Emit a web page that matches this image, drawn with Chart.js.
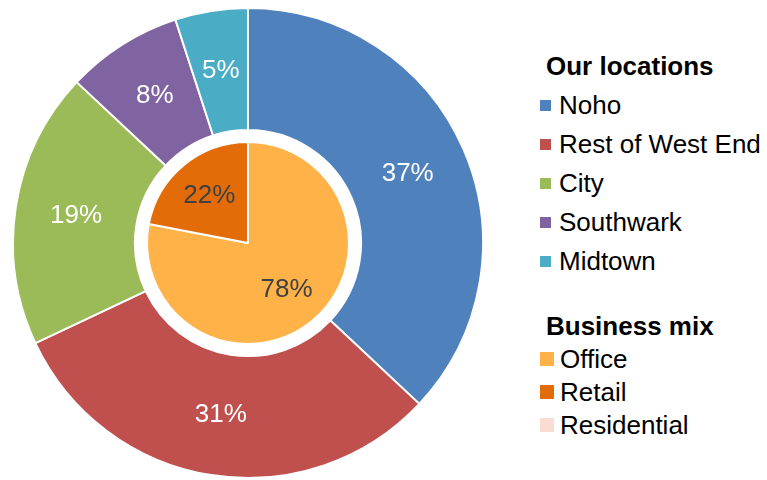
<!DOCTYPE html>
<html>
<head>
<meta charset="utf-8">
<script src="https://cdn.jsdelivr.net/npm/chart.js@4/dist/chart.umd.min.js"></script>
<style>
  body { margin: 0; background: #fff; font-family: "Liberation Sans", Arial, sans-serif; }
  #wrap { position: relative; width: 767px; height: 480px; overflow: hidden; }
  canvas.pie { position: absolute; left: 8px; top: 3px; }
  .legend { position: absolute; color: #000; white-space: nowrap; }
  .legend h3 { margin: 0; font-size: 26px; font-weight: bold; line-height: 30px; }
  .legend .item { display: flex; align-items: center; font-size: 26px; line-height: 30px; }
  .legend .sw { display: inline-block; }
</style>
</head>
<body>
<div id="wrap">
  <canvas id="outerChart" class="pie" width="480" height="480"></canvas>
  <canvas id="innerChart" class="pie" width="480" height="480"></canvas>
  <div class="legend" id="legLoc" style="left:540px; top:51px;"></div>
  <div class="legend" id="legMix" style="left:540px; top:311px;"></div>
</div>
<script>
var locations = ["Noho", "Rest of West End", "City", "Southwark", "Midtown"];
var locationShare = [37, 31, 19, 8, 5];
var locationColors = ["#4F81BD", "#C0504D", "#9BBB59", "#8064A2", "#4BACC6"];

var businessTypes = ["Office", "Retail", "Residential"];
var businessShare = [78, 22, 0];
var businessColors = ["#FFB247", "#E36C09", "#FBDCD3"];

// draws "NN%" inside each arc, at the arc's own centre point
var arcLabels = {
    id: 'arcLabels',
    afterDatasetsDraw: function (chart, args, opts) {
        var ctx = chart.ctx;
        var meta = chart.getDatasetMeta(0);
        var values = chart.data.datasets[0].data;
        ctx.save();
        ctx.font = '26px "Liberation Sans", Arial, sans-serif';
        ctx.fillStyle = opts.color;
        ctx.textAlign = 'center';
        ctx.textBaseline = 'middle';
        meta.data.forEach(function (arc, i) {
            if (!values[i]) return;
            var p = arc.getProps(['x', 'y', 'startAngle', 'endAngle', 'innerRadius', 'outerRadius'], true);
            var mid = (p.startAngle + p.endAngle) / 2;
            var r = p.innerRadius + (p.outerRadius - p.innerRadius) * opts.pos;
            ctx.fillText(values[i] + '%', p.x + Math.cos(mid) * r, p.y + Math.sin(mid) * r);
        });
        ctx.restore();
    }
};

new Chart(document.getElementById('outerChart'), {
    type: 'doughnut',
    data: {
        labels: locations,
        datasets: [{
            data: locationShare,
            backgroundColor: locationColors,
            borderColor: '#fff',
            borderWidth: 2
        }]
    },
    options: {
        responsive: false,
        animation: false,
        radius: 235,
        cutout: 115,
        plugins: {
            legend: { display: false },
            tooltip: { enabled: false },
            arcLabels: { color: '#fff', pos: 0.5 }
        }
    },
    plugins: [arcLabels]
});

new Chart(document.getElementById('innerChart'), {
    type: 'pie',
    data: {
        labels: businessTypes,
        datasets: [{
            data: businessShare,
            backgroundColor: businessColors,
            borderColor: '#fff',
            borderWidth: 2
        }]
    },
    options: {
        responsive: false,
        animation: false,
        radius: 101,
        plugins: {
            legend: { display: false },
            tooltip: { enabled: false },
            arcLabels: { color: '#404040', pos: 0.6 }
        }
    },
    plugins: [arcLabels]
});

function buildLegend(el, title, names, colors, sw, swGap, titleGap, gap) {
    var html = '<h3 style="margin-left:6px;margin-bottom:' + titleGap + 'px">' + title + '</h3>';
    names.forEach(function (n, i) {
        html += '<div class="item" style="margin-top:' + gap + 'px"><span class="sw" style="width:' + sw + 'px;height:' + sw + 'px;margin-right:' + swGap + 'px;background:' + colors[i] + '"></span>' + n + '</div>';
    });
    document.getElementById(el).innerHTML = html;
}
buildLegend('legLoc', 'Our locations', locations, locationColors, 11, 8, 3, 9);
buildLegend('legMix', 'Business mix', businessTypes, businessColors, 14, 6, 0, 3);
</script>
</body>
</html>
